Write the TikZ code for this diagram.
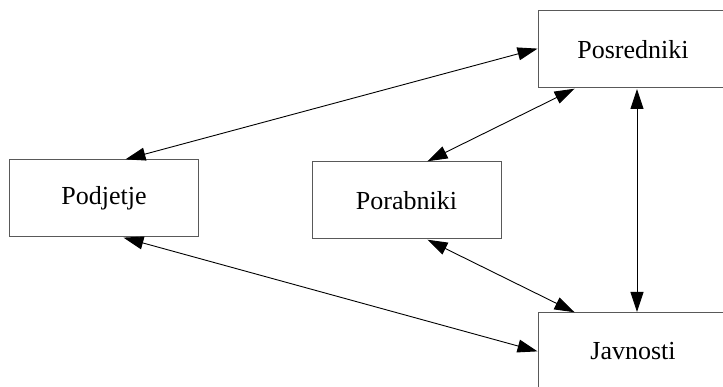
\documentclass[tikz,border=0pt]{standalone}
\usepackage{fontspec}
\setmainfont{Liberation Serif}
\usetikzlibrary{arrows.meta}
\tikzset{
	box/.style={draw=black!65, line width=1pt, rectangle, minimum width=189pt, minimum height=77pt, inner sep=0pt, font=\fontsize{26}{31}\selectfont},
	link/.style={draw=black, line width=0.9pt, {Triangle[length=20pt,width=13pt]}-{Triangle[length=20pt,width=13pt]}, shorten <=0.5pt, shorten >=0.5pt}
}

\begin{document}
\begin{tikzpicture}[x=1pt, y=1pt]
		%%%%% START %%%%%
		
		\useasboundingbox (0, 0) rectangle (723, 387);
		\clip (0, 0) rectangle (723, 387);
		
		\node[box] (podjetje) at (104, 188.5) {Podjetje};
		\node[box] (porabniki) at (406.5, 186.5) {Porabniki};
		\node[box] (posredniki) at (633, 337.5) {Posredniki};
		\node[box] (javnosti) at (633, 35.5) {Javnosti};
		
		\draw[link] ([xshift=21pt]podjetje.north) -- ([yshift=1pt]posredniki.west);
		\draw[link] ([xshift=20.5pt]porabniki.north) -- ([xshift=-58pt]posredniki.south);
		\draw[link] ([xshift=4pt]posredniki.south) -- ([xshift=4pt]javnosti.north);
		\draw[link] ([xshift=20.5pt]porabniki.south) -- ([xshift=-58pt]javnosti.north);
		\draw[link] ([xshift=19pt]podjetje.south) -- (javnosti.west);
		
		%%%%% END %%%%%
	\end{tikzpicture}
\end{document}
